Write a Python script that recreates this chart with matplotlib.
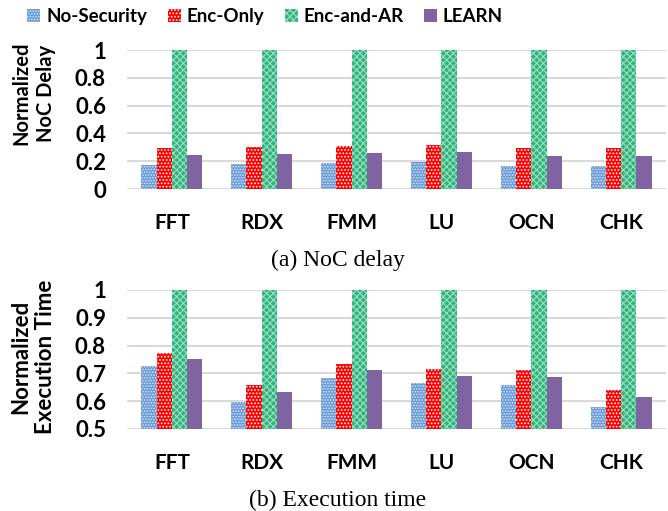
import numpy as np
import matplotlib
matplotlib.use('Agg')
import matplotlib.pyplot as plt

# benchmark names and the four schemes
benchmarks = ['FFT', 'RDX', 'FMM', 'LU', 'OCN', 'CHK']
schemes = ['No-Security', 'Enc-Only', 'Enc-and-AR', 'LEARN']

# normalized NoC delay
noc_nosec = [0.17, 0.18, 0.185, 0.195, 0.165, 0.165]
noc_enc = [0.295, 0.30, 0.31, 0.315, 0.295, 0.295]
noc_encar = [1.0, 1.0, 1.0, 1.0, 1.0, 1.0]
noc_learn = [0.242, 0.249, 0.258, 0.266, 0.235, 0.235]

# normalized execution time
exe_nosec = [0.728, 0.598, 0.685, 0.665, 0.658, 0.579]
exe_enc = [0.773, 0.658, 0.734, 0.715, 0.712, 0.641]
exe_encar = [1.0, 1.0, 1.0, 1.0, 1.0, 1.0]
exe_learn = [0.752, 0.633, 0.713, 0.691, 0.688, 0.615]

plt.rcParams['font.family'] = ['Lato', 'DejaVu Sans']
plt.rcParams['hatch.linewidth'] = 0.8

faces = ['#6a9bd8', '#ff0000', '#2db37e', '#8064a2']
hatch_cols = ['#d5e4f6', '#ffffff', '#9fe0c0', '#8064a2']
hatches = ['......', '.....', 'xxxxx', '']

fig = plt.figure(figsize=(6.68, 5.11), dpi=100)
ax1 = fig.add_axes([0.190, 0.630, 0.807, 0.272])
ax2 = fig.add_axes([0.190, 0.1605, 0.807, 0.272])

x = np.arange(len(benchmarks))
w = 0.17


def draw(ax, series, bottom):
    for i, vals in enumerate(series):
        vals = np.array(vals)
        ax.bar(x + (i - 1.5) * w, vals - bottom, w, bottom=bottom,
               color=faces[i], edgecolor=hatch_cols[i], linewidth=0,
               hatch=hatches[i], label=schemes[i], zorder=3)
    ax.set_xticks(x)
    ax.set_xticklabels(benchmarks, fontsize=15, fontweight='bold')
    ax.set_xlim(-0.5, len(benchmarks) - 0.5)
    ax.grid(axis='y', color='#d9d9d9', linewidth=1.5, zorder=0)
    for s in ax.spines.values():
        s.set_visible(False)
    ax.tick_params(axis='both', length=0)
    ax.tick_params(axis='x', pad=17)
    ax.tick_params(axis='y', pad=15)


draw(ax1, [noc_nosec, noc_enc, noc_encar, noc_learn], 0)
ax1.set_ylim(0, 1)
ax1.set_yticks([0, 0.2, 0.4, 0.6, 0.8, 1])
ax1.set_yticklabels(['0', '0.2', '0.4', '0.6', '0.8', '1'], fontsize=16, fontweight='bold')

draw(ax2, [exe_nosec, exe_enc, exe_encar, exe_learn], 0.5)
ax2.set_ylim(0.5, 1)
ax2.set_yticks([0.5, 0.6, 0.7, 0.8, 0.9, 1])
ax2.set_yticklabels(['0.5', '0.6', '0.7', '0.8', '0.9', '1'], fontsize=16, fontweight='bold')

fig.text(0.050, 1 - 93 / 511, 'Normalized\nNoC Delay', rotation=90, ha='center', va='center',
         fontsize=14.5, fontweight='bold', linespacing=1.3)
fig.text(0.050, 1 - 357 / 511, 'Normalized\nExecution Time', rotation=90, ha='center', va='center',
         fontsize=16, fontweight='bold', linespacing=1.2)

handles, labels = ax1.get_legend_handles_labels()
fig.legend(handles, labels, loc='center', bbox_to_anchor=(0.397, 0.968), ncol=4,
           frameon=False, prop={'weight': 'bold', 'size': 13.5},
           handlelength=0.7, handleheight=0.7, handletextpad=0.3, columnspacing=1.1)

fig.text(338 / 668, 1 - 260 / 511, '(a) NoC delay', ha='center', va='center',
         fontsize=17, family='Liberation Serif')
fig.text(338 / 668, 1 - 500 / 511, '(b) Execution time', ha='center', va='center',
         fontsize=17, family='Liberation Serif')

plt.savefig('out.png', dpi=100)
